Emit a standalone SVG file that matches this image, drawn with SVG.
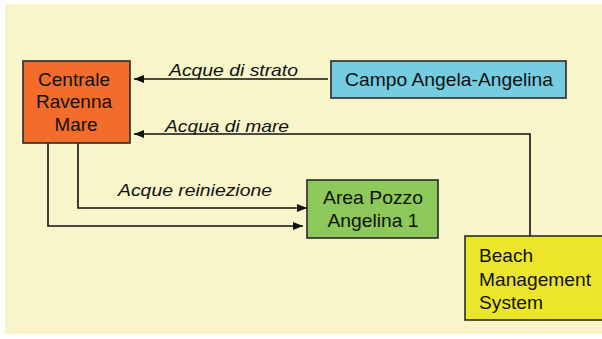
<svg xmlns="http://www.w3.org/2000/svg" width="602" height="339" viewBox="0 0 602 339">
<defs>
<marker id="ah" viewBox="0 0 10 8" refX="10" refY="4" markerWidth="10" markerHeight="8" markerUnits="userSpaceOnUse" orient="auto">
<path d="M0,0 L10,4 L0,8 Z" fill="#111"/>
</marker>
</defs>
<style>
.box{stroke:#2a2a2a;stroke-width:1.6}
.t{font-family:"Liberation Sans",Arial,sans-serif;font-size:18.5px;fill:#111}
.lbl{font-family:"Liberation Sans",Arial,sans-serif;font-size:17px;font-style:italic;fill:#111}
.c{stroke:#111;stroke-width:1.6;fill:none;marker-end:url(#ah)}
</style>
<rect x="0" y="0" width="602" height="339" fill="#ffffff"/>
<rect x="5" y="4" width="597" height="330" fill="#f7f5c9"/>
<g id="connectors">
<path class="c" d="M328,79 H134"/>
<path class="c" d="M530,236 V134 H134"/>
<path class="c" d="M78,143 V208 H307"/>
<path class="c" d="M48,143 V226 H303"/>
<text class="lbl" x="169" y="76" textLength="129" lengthAdjust="spacingAndGlyphs">Acque di strato</text>
<text class="lbl" x="165" y="132" textLength="124" lengthAdjust="spacingAndGlyphs">Acqua di mare</text>
<text class="lbl" x="118" y="196" textLength="154" lengthAdjust="spacingAndGlyphs">Acque reiniezione</text>
</g>
<g id="centrale">
<rect class="box" x="23" y="61" width="107" height="82" fill="#f26c2b"/>
<text class="t" x="74" y="86" text-anchor="middle" textLength="72" lengthAdjust="spacingAndGlyphs">Centrale</text>
<text class="t" x="74" y="108" text-anchor="middle" textLength="76" lengthAdjust="spacingAndGlyphs">Ravenna</text>
<text class="t" x="76" y="131" text-anchor="middle" textLength="43" lengthAdjust="spacingAndGlyphs">Mare</text>
</g>
<g id="campo">
<rect class="box" x="331" y="61" width="235" height="37" fill="#74cde1"/>
<text class="t" x="449" y="86" text-anchor="middle" textLength="208" lengthAdjust="spacingAndGlyphs">Campo Angela-Angelina</text>
</g>
<g id="area">
<rect class="box" x="307" y="180" width="131" height="58" fill="#8cc85a"/>
<text class="t" x="373" y="204" text-anchor="middle" textLength="100" lengthAdjust="spacingAndGlyphs">Area Pozzo</text>
<text class="t" x="373" y="227" text-anchor="middle" textLength="91" lengthAdjust="spacingAndGlyphs">Angelina 1</text>
</g>
<g id="beach">
<rect class="box" x="465" y="236" width="140" height="84" fill="#ece62b"/>
<text class="t" x="479" y="262" textLength="54" lengthAdjust="spacingAndGlyphs">Beach</text>
<text class="t" x="479" y="286" textLength="112" lengthAdjust="spacingAndGlyphs">Management</text>
<text class="t" x="479" y="309" textLength="64" lengthAdjust="spacingAndGlyphs">System</text>
</g>
</svg>
